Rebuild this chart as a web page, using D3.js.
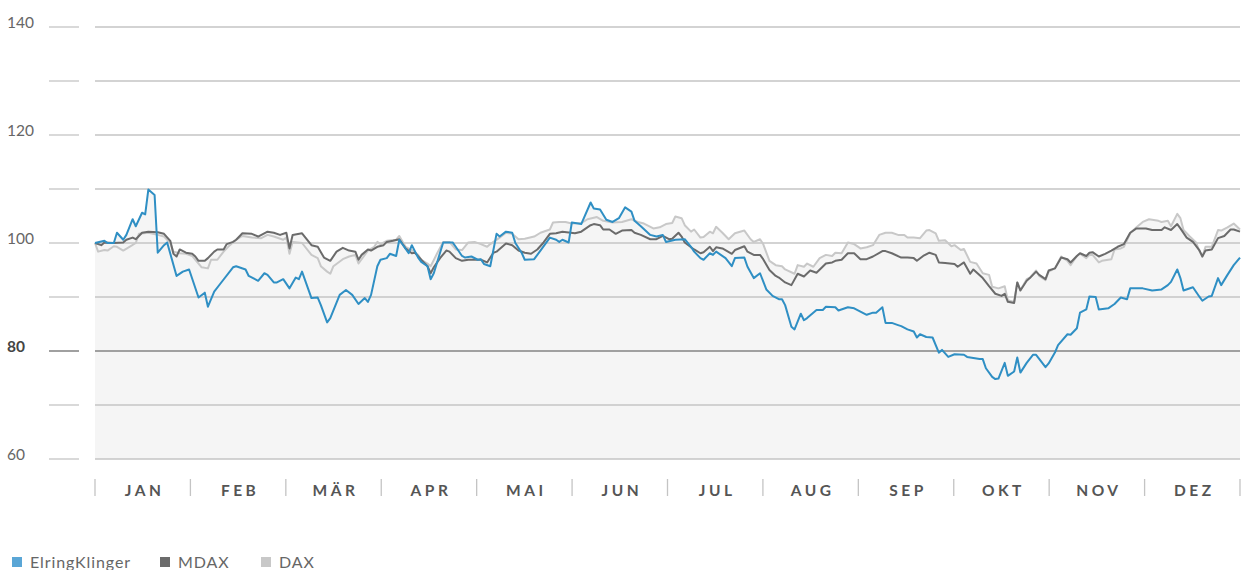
<!DOCTYPE html>
<html>
<head>
<meta charset="utf-8">
<script src="https://cdn.jsdelivr.net/npm/d3@7"></script>
<style>
  html, body { margin: 0; padding: 0; background: #fff; }
  svg { display: block; font-family: Lato, "Open Sans", sans-serif; }
</style>
</head>
<body>
<svg id="chart" width="1242" height="570"></svg>
<script>
// months shown on the x axis (equal-width bands)
const months = ['JAN', 'FEB', 'MÄR', 'APR', 'MAI', 'JUN', 'JUL', 'AUG', 'SEP', 'OKT', 'NOV', 'DEZ'];
const yTicks = [60, 70, 80, 90, 100, 110, 120, 130, 140];
const yLabels = [60, 80, 100, 120, 140];

// day of year (0..365) and indexed value
const elringDays = [0, 3, 4, 6, 7, 9, 10, 12, 13, 15, 16, 17, 19, 20, 22, 23, 26, 28, 30, 33, 35, 36, 38, 40, 44, 45, 48, 49, 52, 54, 55, 57, 58, 60, 62, 64, 65, 66, 69, 71, 72, 74, 75, 78, 80, 82, 84, 86, 87, 88, 90, 91, 93, 94, 96, 97, 100, 101, 103, 104, 106, 107, 108, 111, 114, 115, 117, 118, 120, 122, 123, 124, 126, 128, 129, 131, 133, 134, 136, 137, 140, 142, 145, 147, 148, 149, 151, 152, 155, 158, 159, 161, 163, 165, 167, 169, 171, 172, 174, 177, 179, 181, 182, 185, 188, 190, 191, 193, 194, 196, 197, 198, 201, 203, 204, 207, 208, 210, 212, 214, 216, 218, 219, 220, 222, 223, 225, 226, 227, 230, 232, 233, 236, 237, 240, 242, 244, 246, 248, 249, 251, 252, 254, 256, 257, 259, 261, 262, 263, 265, 267, 269, 270, 272, 274, 277, 278, 282, 283, 284, 286, 287, 288, 290, 291, 293, 294, 295, 297, 299, 300, 303, 304, 306, 307, 310, 311, 313, 314, 316, 317, 319, 320, 323, 325, 327, 329, 330, 334, 337, 340, 342, 343, 345, 346, 347, 350, 352, 353, 355, 356, 358, 359, 361, 363, 365];
const elringValues = [100.0, 100.4, 100.0, 100.0, 101.9, 100.6, 101.5, 104.4, 103.1, 105.6, 105.3, 109.9, 108.9, 98.2, 99.6, 100.1, 93.9, 94.7, 95.1, 89.9, 90.8, 88.2, 91.0, 92.5, 95.5, 95.7, 95.1, 93.9, 93.0, 94.4, 94.1, 92.7, 92.7, 93.3, 91.6, 93.6, 93.3, 94.7, 89.8, 89.9, 88.5, 85.3, 86.1, 90.4, 91.3, 90.4, 88.7, 89.8, 89.1, 90.4, 95.7, 96.9, 97.2, 98.0, 97.6, 100.6, 98.1, 99.6, 97.3, 96.5, 95.7, 93.3, 94.4, 100.1, 100.1, 99.3, 97.6, 97.3, 97.5, 96.9, 97.0, 96.1, 95.7, 101.7, 101.2, 102.1, 101.9, 100.0, 98.2, 96.9, 97.0, 98.6, 101.0, 100.6, 100.2, 100.6, 100.1, 103.8, 103.5, 107.5, 106.4, 106.2, 104.3, 103.9, 104.6, 106.6, 105.8, 104.1, 103.1, 101.5, 101.2, 101.5, 100.2, 100.6, 100.7, 99.3, 98.4, 97.2, 96.9, 98.1, 97.8, 98.4, 97.2, 95.7, 97.2, 97.3, 95.6, 93.5, 94.4, 91.4, 90.2, 89.6, 89.6, 88.5, 84.5, 84.0, 86.9, 85.7, 86.1, 87.6, 87.6, 88.2, 88.1, 87.5, 88.1, 87.9, 87.3, 86.7, 87.1, 87.1, 88.1, 85.2, 85.2, 84.8, 84.6, 84.0, 83.6, 82.5, 83.1, 82.6, 82.5, 79.7, 80.2, 78.9, 79.4, 79.3, 78.9, 78.5, 78.5, 76.8, 75.2, 74.8, 74.9, 77.8, 75.4, 76.2, 78.8, 76.0, 77.8, 79.3, 79.3, 77.0, 77.7, 79.7, 81.1, 83.1, 83.0, 84.2, 87.1, 87.7, 90.1, 90.0, 87.7, 87.9, 88.7, 89.9, 89.6, 91.6, 91.6, 91.2, 91.4, 92.2, 92.8, 95.1, 93.5, 91.2, 91.8, 90.1, 89.3, 90.1, 90.2, 93.5, 92.2, 94.1, 95.9, 97.3];

const mdaxDays = [0, 2, 3, 6, 9, 10, 12, 13, 15, 17, 20, 22, 24, 25, 26, 27, 29, 31, 32, 33, 35, 36, 38, 39, 41, 42, 44, 45, 47, 50, 52, 55, 57, 59, 61, 62, 63, 66, 69, 71, 73, 75, 77, 79, 81, 83, 84, 85, 87, 88, 90, 92, 93, 95, 97, 99, 101, 102, 104, 106, 107, 108, 110, 112, 113, 115, 117, 119, 121, 123, 125, 127, 128, 131, 133, 135, 137, 139, 141, 143, 145, 147, 149, 153, 155, 158, 159, 161, 162, 164, 166, 168, 171, 172, 174, 177, 179, 181, 183, 184, 186, 187, 188, 190, 191, 193, 194, 196, 197, 198, 200, 203, 204, 207, 208, 210, 212, 213, 215, 217, 218, 220, 222, 224, 226, 228, 230, 233, 235, 236, 238, 240, 242, 244, 246, 248, 251, 252, 254, 257, 259, 261, 262, 264, 266, 268, 269, 271, 274, 275, 277, 279, 280, 283, 285, 287, 289, 290, 291, 293, 294, 295, 297, 298, 300, 301, 303, 304, 306, 308, 310, 311, 313, 314, 316, 317, 318, 320, 322, 324, 326, 328, 330, 332, 335, 337, 340, 341, 343, 345, 346, 348, 350, 352, 353, 354, 356, 358, 360, 362, 363, 365];
const mdaxValues = [100.0, 99.6, 100.1, 100.0, 100.1, 100.6, 101.0, 100.7, 101.9, 102.1, 102.0, 101.7, 100.4, 98.0, 97.5, 98.8, 98.2, 98.0, 97.5, 96.7, 96.7, 97.2, 98.4, 98.8, 98.8, 99.8, 100.2, 100.6, 101.8, 101.7, 101.2, 102.1, 101.9, 101.5, 101.9, 99.0, 101.5, 101.8, 99.6, 99.3, 97.3, 96.7, 98.4, 99.1, 98.6, 98.4, 96.9, 97.8, 98.8, 98.6, 99.3, 99.6, 100.2, 100.4, 100.7, 99.0, 98.1, 98.2, 96.9, 95.7, 94.4, 95.5, 97.2, 98.6, 98.4, 97.2, 96.7, 96.9, 96.9, 96.9, 96.4, 98.2, 98.4, 99.9, 99.6, 98.6, 98.2, 98.0, 98.8, 100.1, 101.7, 101.8, 102.1, 101.8, 102.1, 103.3, 103.5, 103.3, 102.5, 102.5, 101.7, 102.3, 102.4, 101.9, 101.5, 100.7, 100.7, 101.3, 100.7, 100.8, 101.9, 101.2, 100.1, 99.2, 98.8, 98.1, 98.3, 99.3, 98.5, 99.2, 99.0, 98.0, 98.7, 99.4, 98.4, 97.8, 97.8, 97.0, 95.0, 93.9, 93.6, 92.7, 92.2, 94.3, 93.8, 94.9, 94.5, 96.2, 96.4, 96.7, 96.9, 98.1, 98.1, 97.0, 97.0, 97.5, 98.5, 98.5, 98.1, 97.3, 97.3, 97.2, 96.7, 97.6, 98.2, 97.8, 96.4, 96.3, 96.1, 95.6, 96.4, 94.3, 95.1, 93.5, 92.0, 90.6, 90.2, 90.6, 89.1, 88.9, 92.7, 91.2, 93.0, 93.5, 94.7, 94.1, 93.3, 94.9, 95.3, 97.3, 97.0, 96.4, 97.6, 98.1, 97.6, 98.2, 98.3, 97.5, 98.0, 98.6, 99.3, 99.8, 101.9, 102.7, 102.7, 102.4, 102.4, 102.9, 102.4, 103.5, 102.7, 101.0, 100.2, 98.7, 97.5, 98.6, 98.8, 100.9, 101.3, 102.5, 102.5, 102.1];

const daxDays = [0, 1, 3, 4, 6, 7, 9, 11, 13, 14, 17, 20, 22, 24, 25, 27, 29, 31, 32, 34, 36, 37, 39, 41, 43, 45, 47, 50, 53, 55, 57, 60, 61, 62, 63, 66, 69, 71, 72, 74, 75, 76, 79, 81, 83, 84, 86, 87, 89, 90, 91, 93, 96, 97, 99, 101, 103, 104, 106, 107, 109, 111, 113, 115, 117, 119, 121, 123, 125, 126, 129, 131, 133, 135, 137, 140, 142, 145, 146, 148, 150, 152, 155, 157, 160, 162, 165, 168, 171, 173, 175, 178, 180, 182, 184, 185, 187, 188, 190, 191, 193, 194, 196, 197, 198, 200, 202, 204, 207, 209, 210, 212, 213, 215, 217, 219, 220, 223, 224, 226, 227, 229, 231, 233, 235, 236, 238, 240, 242, 244, 246, 248, 250, 252, 254, 256, 258, 259, 261, 263, 265, 266, 268, 269, 271, 273, 274, 276, 277, 279, 281, 283, 285, 286, 288, 290, 291, 293, 294, 295, 297, 298, 300, 301, 303, 304, 306, 308, 310, 311, 313, 314, 316, 317, 318, 320, 321, 324, 325, 327, 328, 330, 332, 334, 336, 339, 340, 342, 343, 345, 346, 347, 349, 351, 352, 353, 354, 356, 358, 359, 361, 363, 365];
const daxValues = [100.0, 98.4, 98.7, 98.6, 99.4, 99.3, 98.6, 99.3, 100.0, 101.7, 101.9, 101.5, 101.2, 100.0, 98.4, 98.1, 98.0, 97.6, 96.9, 95.5, 95.3, 96.9, 96.9, 98.4, 99.6, 100.6, 101.3, 101.0, 100.9, 101.5, 101.2, 100.6, 101.0, 98.0, 100.2, 100.0, 97.8, 97.2, 95.7, 94.7, 94.3, 95.7, 97.0, 97.5, 97.8, 96.2, 97.8, 98.6, 99.3, 100.2, 99.8, 100.4, 100.6, 101.3, 99.3, 98.7, 97.8, 96.9, 96.2, 95.7, 98.0, 100.2, 100.2, 98.8, 98.7, 100.1, 100.2, 99.8, 99.3, 99.8, 101.0, 101.9, 101.7, 100.7, 100.8, 101.2, 101.9, 102.5, 103.8, 103.9, 103.9, 103.6, 103.7, 104.4, 104.8, 104.1, 103.8, 103.9, 104.4, 103.9, 103.6, 102.7, 102.9, 103.5, 103.7, 104.9, 104.6, 103.3, 102.1, 102.5, 101.0, 101.1, 102.1, 101.8, 103.0, 101.9, 100.7, 101.8, 102.3, 100.7, 100.2, 100.7, 99.8, 96.7, 95.9, 95.7, 95.1, 94.3, 95.9, 95.6, 96.2, 95.6, 97.2, 97.8, 97.6, 98.2, 98.1, 100.1, 99.8, 99.0, 99.2, 99.6, 101.5, 101.9, 101.9, 101.5, 101.5, 101.0, 101.0, 100.9, 102.3, 102.4, 101.8, 100.4, 100.5, 99.4, 99.6, 98.7, 98.9, 96.5, 96.2, 94.4, 94.1, 91.9, 91.6, 92.0, 89.4, 89.1, 92.7, 91.3, 93.3, 93.6, 94.9, 93.9, 93.1, 94.7, 95.3, 97.5, 96.7, 95.9, 97.6, 98.0, 97.2, 97.8, 97.8, 96.4, 96.7, 97.0, 98.8, 99.0, 99.3, 101.8, 102.9, 103.9, 104.4, 104.1, 103.9, 104.1, 103.1, 105.4, 104.6, 102.4, 101.2, 100.1, 98.6, 97.5, 99.3, 99.3, 102.4, 102.3, 102.9, 103.6, 102.5];

const seriesNames = ['ElringKlinger', 'MDAX', 'DAX'];
const lineColors = ['#2f8fc4', '#6b6b6b', '#c8c8c8'];
const legendColors = ['#5aa6d6', '#6b6b6b', '#c8c8c8'];

const svg = d3.select('#chart');
const plotLeft = 95, plotRight = 1240, plotTop = 27, plotBottom = 459;

const x = d3.scaleLinear().domain([0, 365]).range([plotLeft, plotRight]);
const xMonth = d3.scaleBand().domain(months).range([plotLeft, plotRight]);
const y = d3.scaleLinear().domain([60, 140]).range([plotBottom, plotTop]);

const series = [
  { name: seriesNames[0], days: elringDays, values: elringValues },
  { name: seriesNames[1], days: mdaxDays, values: mdaxValues },
  { name: seriesNames[2], days: daxDays, values: daxValues }
].map((s, i) => ({
  name: s.name,
  color: lineColors[i],
  points: s.days.map((d, j) => [d, s.values[j]])
}));

// shaded area under every line, same colour so it merges
const area = d3.area()
  .x(d => x(d[0]))
  .y0(y(60))
  .y1(d => y(d[1]));

svg.append('g')
  .selectAll('path')
  .data(series)
  .join('path')
  .attr('d', d => area(d.points))
  .attr('fill', '#f5f5f5');

// grid lines with the short segment next to the labels
const grid = svg.append('g');
yTicks.forEach(t => {
  const strong = t === 80;
  const col = strong ? '#a0a0a0' : '#c4c4c4';
  const w = strong ? 2 : 1.3;
  grid.append('line')
    .attr('x1', 49).attr('x2', 79)
    .attr('y1', y(t)).attr('y2', y(t))
    .attr('stroke', col).attr('stroke-width', w);
  grid.append('line')
    .attr('x1', plotLeft).attr('x2', plotRight)
    .attr('y1', y(t)).attr('y2', y(t))
    .attr('stroke', col).attr('stroke-width', w);
});

svg.append('g')
  .selectAll('text')
  .data(yLabels)
  .join('text')
  .attr('x', 7)
  .attr('y', d => y(d) + 1)
  .attr('font-size', 15.5)
  .attr('font-weight', d => d === 80 ? 700 : 400)
  .attr('fill', d => d === 80 ? '#444' : '#666')
  .text(d => d);

// lines, DAX first so ElringKlinger is on top
const line = d3.line()
  .x(d => x(d[0]))
  .y(d => y(d[1]));

svg.append('g')
  .selectAll('path')
  .data(series.slice().reverse())
  .join('path')
  .attr('d', d => line(d.points))
  .attr('fill', 'none')
  .attr('stroke', d => d.color)
  .attr('stroke-width', 2)
  .attr('stroke-linejoin', 'round');

// month axis
const xAxis = svg.append('g');
const edges = months.map(m => xMonth(m)).concat([plotRight]);
xAxis.selectAll('line')
  .data(edges)
  .join('line')
  .attr('x1', d => d).attr('x2', d => d)
  .attr('y1', 479).attr('y2', 496)
  .attr('stroke', '#c4c4c4')
  .attr('stroke-width', 1.3);

xAxis.selectAll('text')
  .data(months)
  .join('text')
  .attr('x', d => xMonth(d) + xMonth.bandwidth() / 2 + 2)
  .attr('y', 496)
  .attr('text-anchor', 'middle')
  .attr('font-size', 15.5)
  .attr('font-weight', 700)
  .attr('letter-spacing', 3.5)
  .attr('fill', '#555')
  .text(d => d);

// legend
const legendX = [12, 160, 261];
const legend = svg.append('g');
seriesNames.forEach((n, i) => {
  legend.append('rect')
    .attr('x', legendX[i]).attr('y', 557)
    .attr('width', 10).attr('height', 10)
    .attr('fill', legendColors[i]);
  legend.append('text')
    .attr('x', legendX[i] + 18).attr('y', 568)
    .attr('font-size', 16)
    .attr('fill', '#666')
    .attr('letter-spacing', 0.9)
    .text(n);
});
</script>
</body>
</html>
